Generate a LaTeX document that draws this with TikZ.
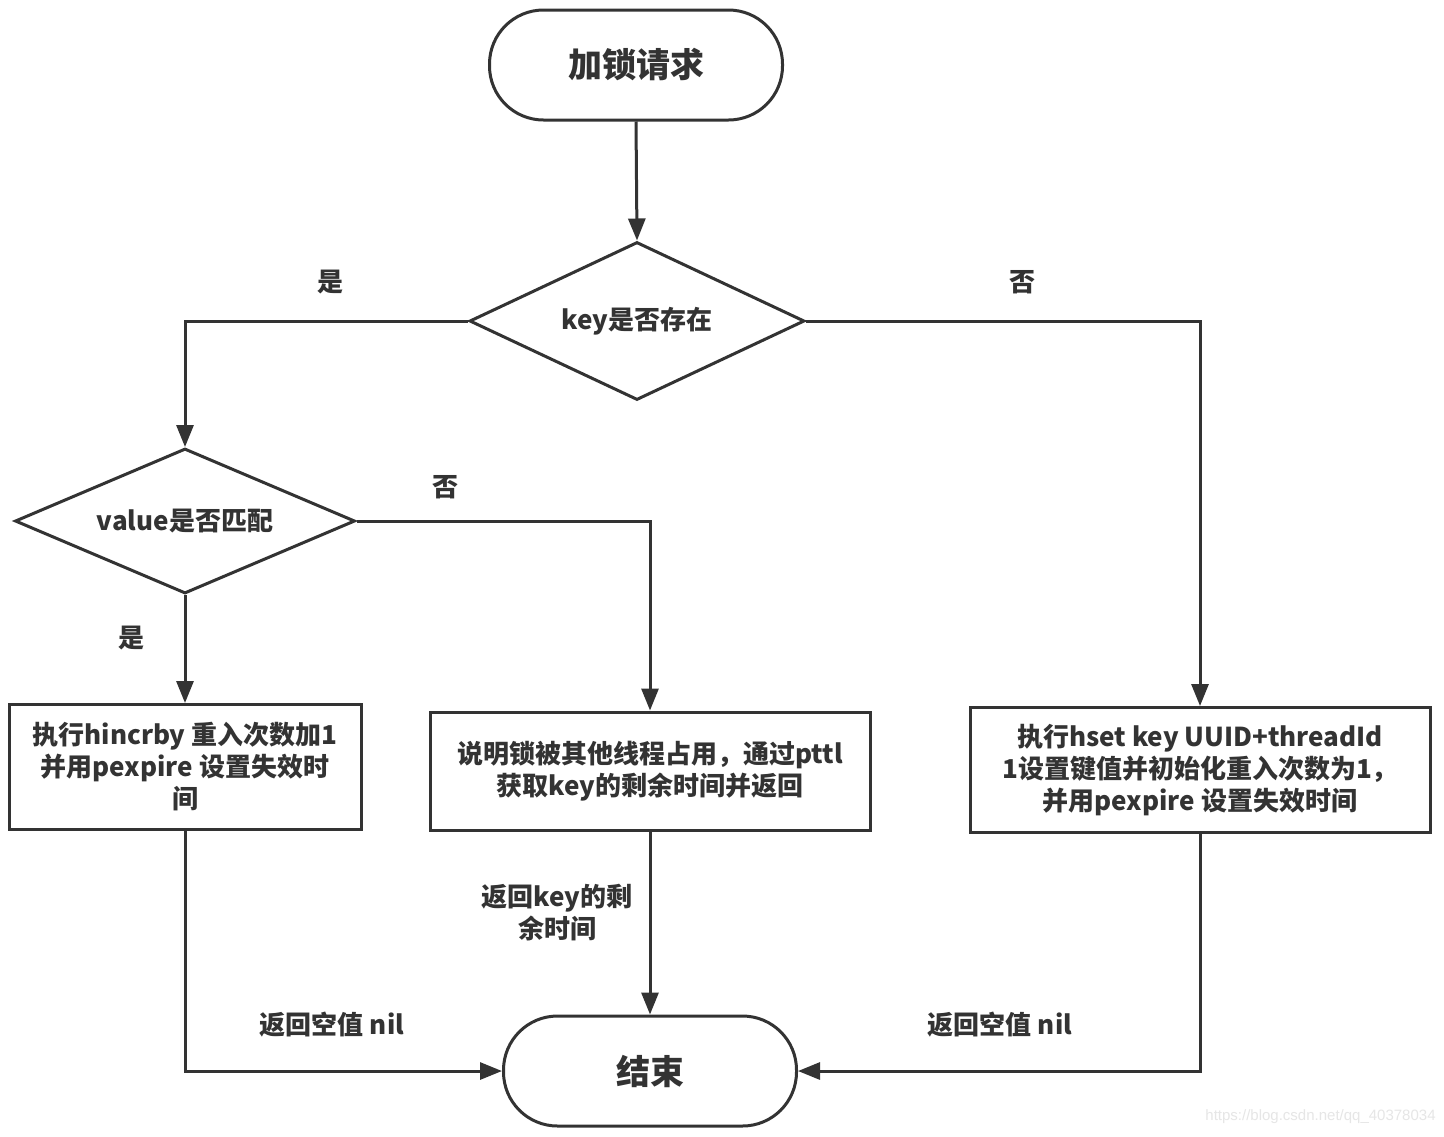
\documentclass[tikz,border=0pt]{standalone}
\usepackage{fontspec}
\setmainfont{Noto Sans CJK SC}
\newfontfamily\wmfont{Liberation Sans}
\usetikzlibrary{arrows.meta,shapes.geometric}
\definecolor{ink}{HTML}{333333}
\definecolor{wm}{HTML}{E6E6E6}
\tikzset{
  every node/.style={font=\bfseries\fontsize{13}{16}\selectfont, text=ink},
  term/.style={draw=ink, line width=1.5pt, rounded corners=27pt, minimum width=146.5pt, minimum height=55pt, inner sep=0pt, font=\bfseries\fontsize{17}{20}\selectfont},
  decide/.style={draw=ink, line width=1.5pt, diamond, inner sep=0pt, aspect=2.1},
  proc/.style={draw=ink, line width=1.5pt, align=center, inner sep=0pt, font=\bfseries\fontsize{13}{16}\selectfont},
  arr/.style={draw=ink, line width=1.5pt, -{Triangle[length=11pt,width=8.5pt]}},
  lbl/.style={inner sep=0pt, align=center},
}
\begin{document}
\begin{tikzpicture}[x=0.5pt, y=-0.5pt]
\useasboundingbox[fill=white] (0,0) rectangle (1444,1136);

\node[term] (start) at (636,65) {加锁请求};
\node[decide, minimum width=167.5pt, minimum height=79pt] (d1) at (637,321) {key是否存在};
\node[decide, minimum width=170pt, minimum height=72.5pt] (d2) at (185,521) {value是否匹配};
\node[proc, minimum width=176pt, minimum height=62.5pt] (b1) at (185,767) {执行hincrby 重入次数加1\\并用pexpire 设置失效时\\间};
\node[proc, minimum width=220pt, minimum height=59pt] (b2) at (650,771) {说明锁被其他线程占用，通过pttl\\获取key的剩余时间并返回};
\node[proc, minimum width=230pt, minimum height=62.5pt] (b3) at (1200,770) {执行hset key UUID+threadId\\1设置键值并初始化重入次数为1，\\并用pexpire 设置失效时间};
\node[term] (end) at (650,1071) {结束};

\draw[arr] (start.south) -- (d1.north);
\draw[arr] (d1.west) -| (d2.north);
\draw[arr] (d1.east) -| (b3.north);
\draw[arr] (d2.east) -| (b2.north);
\draw[arr] (d2.south) -- (b1.north);
\draw[arr] (b1.south) |- (end.west);
\draw[arr] (b2.south) -- (end.north);
\draw[arr] (b3.south) |- (end.east);

\node[lbl] (l1) at (330,282) {是};
\node[lbl] (l2) at (1022,282) {否};
\node[lbl] (l3) at (445,487) {否};
\node[lbl] (l4) at (131,638) {是};
\node[lbl] (l5) at (332,1025) {返回空值 nil};
\node[lbl, font=\bfseries\fontsize{13}{16}\selectfont] (l6) at (557,913) {返回key的剩\\余时间};
\node[lbl] (l7) at (1000,1025) {返回空值 nil};

\node[inner sep=0pt, text=wm, font=\wmfont\fontsize{7.5}{9}\selectfont, anchor=east] (wmk) at (1436,1117) {https://blog.csdn.net/qq\_40378034};
\end{tikzpicture}
\end{document}
